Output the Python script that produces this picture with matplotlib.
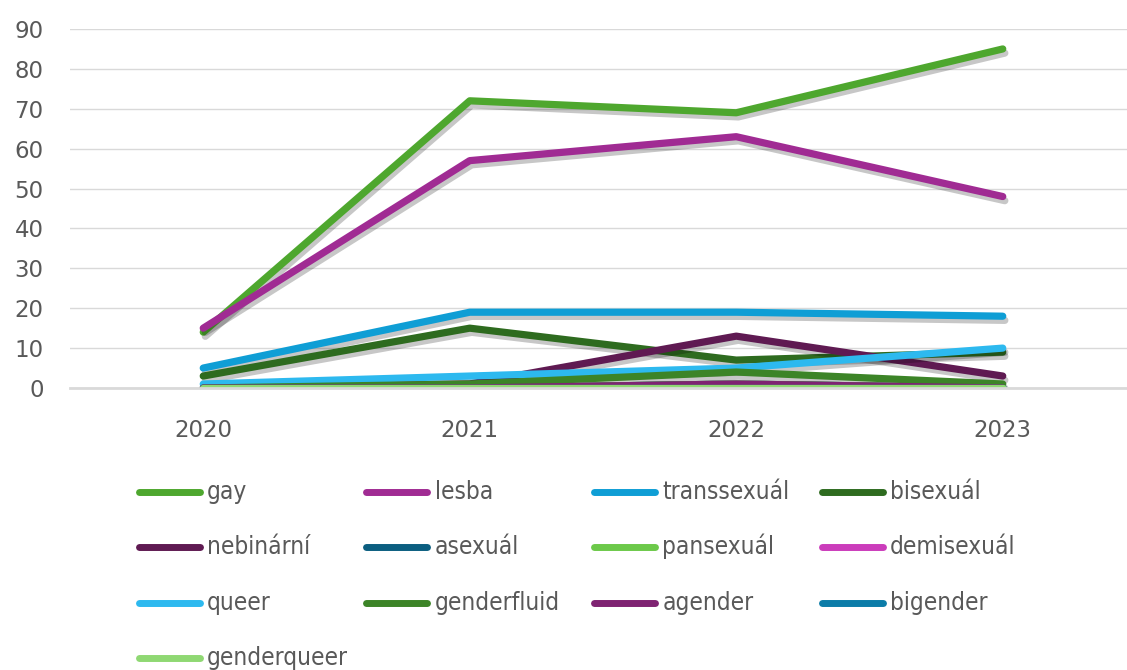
import matplotlib
matplotlib.use("Agg")
import matplotlib.pyplot as plt
import matplotlib.patheffects as pe
from matplotlib.lines import Line2D

years = ["2020", "2021", "2022", "2023"]
series_names = ["gay", "lesba", "transsexuál", "bisexuál", "nebinární", "asexuál",
                "pansexuál", "demisexuál", "queer", "genderfluid", "agender",
                "bigender", "genderqueer"]
gay = [14, 72, 69, 85]
lesba = [15, 57, 63, 48]
transsexual = [5, 19, 19, 18]
bisexual = [3, 15, 7, 9]
nebinarni = [0, 1, 13, 3]
asexual = [0, 0, 1, 0]
pansexual = [0, 0, 1, 0]
demisexual = [0, 0, 0, 0]
queer = [1, 3, 5, 10]
genderfluid = [0, 1, 4, 1]
agender = [0, 0, 1, 0]
bigender = [0, 0, 0, 0]
genderqueer = [0, 0, 0, 0]
values = [gay, lesba, transsexual, bisexual, nebinarni, asexual, pansexual,
          demisexual, queer, genderfluid, agender, bigender, genderqueer]
colors = ["#4EA72E", "#A02B93", "#0F9ED5", "#2E6B1F", "#5F1A52", "#0B5E80",
          "#6CC94A", "#CB3CBB", "#2DB9EF", "#3C8427", "#7F2372", "#0C7CA8",
          "#8FD873"]

W, H = 1127, 670
fig = plt.figure(figsize=(W/100, H/100), dpi=100)
ax = fig.add_axes([70/W, 1-388/H, (1136-70)/W, (388-29)/H])

x = list(range(len(years)))
for name, vals, c in zip(series_names, values, colors):
    ax.plot(x, vals, color=c, lw=5.2, solid_capstyle="round",
            solid_joinstyle="round", label=name,
            path_effects=[pe.SimpleLineShadow(offset=(1.5, -3), shadow_color="black", alpha=0.22),
                          pe.Normal()])

ax.set_xlim(-0.5, 3.5)
ax.set_ylim(0, 90)
ax.set_yticks(range(0, 91, 10))
ax.set_xticks(x)
ax.set_xticklabels(years)
ax.grid(axis="y", color="#d9d9d9", lw=1)
ax.set_axisbelow(True)
for s in ["top", "right", "left"]:
    ax.spines[s].set_visible(False)
ax.spines["bottom"].set_color("#d9d9d9")
ax.spines["bottom"].set_linewidth(2)
ax.tick_params(axis="both", length=0, labelsize=16.5, colors="#595959")
ax.tick_params(axis="y", pad=19)
ax.tick_params(axis="x", pad=22)

# legend laid out as a 4-column grid, row-major
ncol = 4
leg_x0, leg_dx = 135, 227.7
leg_y0, leg_dy = 492, 55.3
for i, (name, c) in enumerate(zip(series_names, colors)):
    r, col = divmod(i, ncol)
    lx = leg_x0 + col * leg_dx
    ly = leg_y0 + r * leg_dy
    fig.add_artist(Line2D([(lx + 3.5)/W, (lx + 64.5)/W], [1 - ly/H, 1 - ly/H],
                          color=c, lw=5, solid_capstyle="round",
                          transform=fig.transFigure))
    fig.text((lx + 72)/W, 1 - (ly + 7)/H, name, ha="left", va="baseline",
             family="DejaVu Sans", stretch="condensed", fontsize=17.5,
             color="#595959")

fig.savefig("out.png", dpi=100)
